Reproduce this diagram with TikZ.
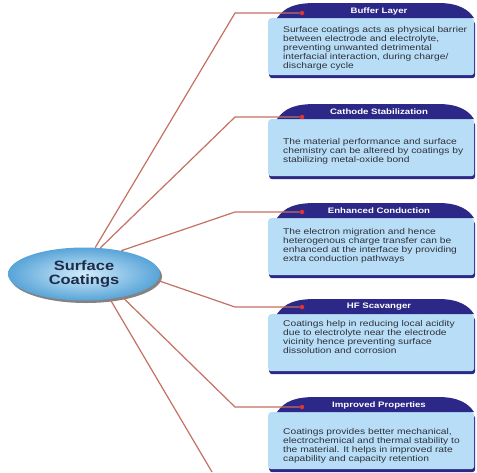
\documentclass[tikz,border=0pt]{standalone}
\usepackage{fontspec}
\setmainfont{Liberation Sans}[FakeStretch=1.22]
\usetikzlibrary{shapes.geometric,shadows}

\definecolor{navy}{RGB}{44,40,135}
\definecolor{paleblue}{RGB}{183,222,246}
\definecolor{linkc}{RGB}{196,112,98}
\definecolor{dotred}{RGB}{232,50,46}
\definecolor{titleink}{RGB}{28,44,74}
\definecolor{bodyink}{RGB}{48,48,58}
\definecolor{hubin}{RGB}{210,236,251}
\definecolor{hubout}{RGB}{88,164,216}

\begin{document}
\begin{tikzpicture}[x=1pt,y=-1pt,
   hub/.style={ellipse, minimum width=152pt, minimum height=53pt, inner sep=0pt,
      inner color=hubin, outer color=hubout,
      drop shadow={shadow xshift=2pt, shadow yshift=-2.5pt, fill=black!65, opacity=.75},
      font=\fontsize{13.5}{14.5}\selectfont\bfseries, text=titleink, align=center},
   card/.style={rectangle, rounded corners=3pt, fill=paleblue, anchor=north west,
      minimum width=206pt, minimum height=57pt,
      drop shadow={shadow xshift=1pt, shadow yshift=-3pt, fill=navy, opacity=1}},
   cardtext/.style={anchor=west, align=left, inner sep=0pt, text=bodyink,
      font=\fontsize{8.4}{9}\selectfont},
   tab/.style={fill=navy},
   tablabel/.style={text=white, inner sep=0pt, font=\fontsize{7.9}{9}\selectfont\bfseries},
   pin/.style={circle, fill=dotred, minimum size=4.5pt, inner sep=0pt},
   link/.style={draw=linkc, line width=1.2pt}]
   \useasboundingbox (0,0) rectangle (477,472);

   \node[hub] (hub) at (84,274) {Surface\\Coatings};

   \node[card] (c1) at (268,18)  {};
   \node[card] (c2) at (268,119) {};
   \node[card] (c3) at (268,218) {};
   \node[card] (c4) at (268,314) {};
   \node[card] (c5) at (268,412) {};

   % dark tabs on top of the cards
   \foreach \c in {c1,c2,c3,c4,c5}
      \fill[tab, shift={(\c.north west)}] (9,0) .. controls (17,-11) and (27,-15) .. (48,-15)
         -- (170,-15) .. controls (190,-15) and (200,-9) .. (206,0) -- cycle;

   \node[tablabel] (h1) at (379,11)  {Buffer Layer};
   \node[tablabel] (h2) at (379,112) {Cathode Stabilization};
   \node[tablabel] (h3) at (379,211) {Enhanced Conduction};
   \node[tablabel] (h4) at (379,307) {HF Scavanger};
   \node[tablabel] (h5) at (379,405) {Improved Properties};

   \node[cardtext] (t1) at (283,48)  {Surface coatings acts as physical barrier\\between electrode and electrolyte,\\preventing unwanted detrimental\\interfacial interaction, during charge/\\discharge cycle};
   \node[cardtext] (t2) at (283,151) {The material performance and surface\\chemistry can be altered by coatings by\\stabilizing metal-oxide bond};
   \node[cardtext] (t3) at (283,246) {The electron migration and hence\\heterogenous charge transfer can be\\enhanced at the interface by providing\\extra conduction pathways};
   \node[cardtext] (t4) at (283,337) {Coatings help in reducing local acidity\\due to electrolyte near the electrode\\vicinity hence preventing surface\\dissolution and corrosion};
   \node[cardtext] (t5) at (283,446) {Coatings provides better mechanical,\\electrochemical and thermal stability to\\the material. It helps in improved rate\\capability and capacity retention};

   \node[pin] (p1) at (302,13)  {};
   \node[pin] (p2) at (302,117) {};
   \node[pin] (p3) at (302,212) {};
   \node[pin] (p4) at (302,307) {};
   \node[pin] (p5) at (302,407) {};

   \coordinate (e1) at (235,13);
   \coordinate (e2) at (235,117);
   \coordinate (e3) at (235,212);
   \coordinate (e4) at (235,307);
   \coordinate (e5) at (235,407);
   \coordinate (e6) at (212,472);

   \draw[link] (hub.67)  -- (e1) -- (p1);
   \draw[link] (hub.58)  -- (e2) -- (p2);
   \draw[link] (hub.32)  -- (e3) -- (p3);
   \draw[link] (hub.-5)  -- (e4) -- (p4);
   \draw[link] (hub.-31) -- (e5) -- (p5);
   \draw[link] (hub.-44) -- (e6);
\end{tikzpicture}
\end{document}
